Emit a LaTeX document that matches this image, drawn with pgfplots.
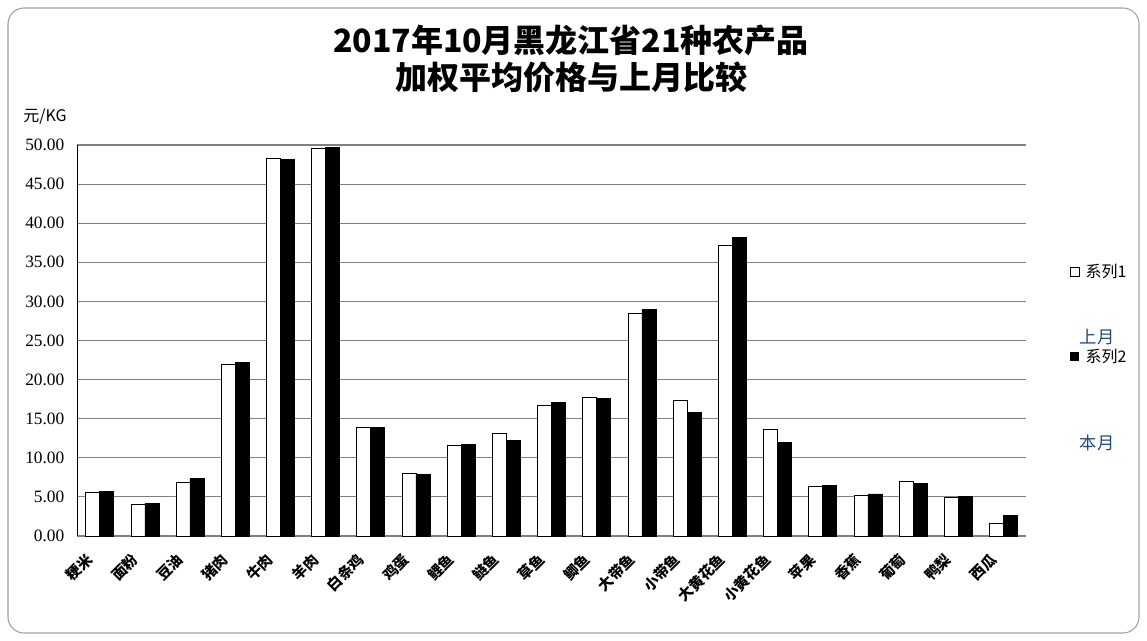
\documentclass[border=0pt]{standalone}
\usepackage{pgfplots}
\usepackage{pgfplotstable}
\pgfplotsset{compat=1.18}
\usepackage{fontspec}
\setmainfont{Noto Sans CJK SC}
\newfontfamily\numfont{Liberation Serif}
\definecolor{legblue}{RGB}{31,73,125}
\definecolor{framegray}{RGB}{160,160,160}
\definecolor{gridgray}{RGB}{128,128,128}

% i = category index, a = 上月 (系列1), b = 本月 (系列2)
\pgfplotstableread{
i a b
0 5.6 5.7
1 4.0 4.2
2 6.9 7.4
3 21.9 22.2
4 48.3 48.2
5 49.6 49.7
6 13.9 13.9
7 8.0 7.9
8 11.6 11.7
9 13.1 12.2
10 16.7 17.1
11 17.8 17.6
12 28.5 29.0
13 17.3 15.8
14 37.2 38.2
15 13.6 12.0
16 6.4 6.5
17 5.2 5.4
18 7.0 6.7
19 4.9 5.1
20 1.6 2.6
}\prices

\begin{document}
\begin{tikzpicture}
\path[use as bounding box] (0,0) rectangle (860.25pt,-480.75pt);
\begin{axis}[
  at={(57.75pt,-402pt)}, anchor=south west,
  scale only axis, width=711.75pt, height=293.25pt,
  ybar, bar width=10.5pt,
  xmin=-0.5, xmax=20.5, ymin=0, ymax=50,
  xtick={0,...,20},
  xticklabels={粳米,面粉,豆油,猪肉,牛肉,羊肉,白条鸡,鸡蛋,鲤鱼,鲢鱼,草鱼,鲫鱼,大带鱼,小带鱼,大黄花鱼,小黄花鱼,苹果,香蕉,葡萄,鸭梨,西瓜},
  ytick={0,5,...,50},
  axis x line*=bottom, axis y line*=left,
  x axis line style={gridgray,-},
  y axis line style={black,-},
  ymajorgrids, major grid style={gridgray, line width=0.8pt},
  tick style={draw=none},
  /pgf/number format/assume math mode=true,
  yticklabel style={font=\numfont\fontsize{13}{13}\selectfont, xshift=-6pt,
    /pgf/number format/.cd, fixed, fixed zerofill, precision=2},
  xticklabel shift=4pt,
  xticklabel style={rotate=45, anchor=east, font=\bfseries\fontsize{11}{11}\selectfont, xshift=-7pt},
  clip=false,
]
\addplot[draw=black, fill=white, bar shift=-5.25pt] table[x=i,y=a]{\prices};
\addplot[draw=black, fill=black, bar shift=5.25pt] table[x=i,y=b]{\prices};
\end{axis}
\begin{scope}[x=0.75pt,y=-0.75pt]
\draw[framegray, line width=0.8pt, rounded corners=12pt] (8,8) rectangle (1139,633);
\node[font=\bfseries\fontsize{24}{24}\selectfont] at (571,40) {2017年10月黑龙江省21种农产品};
\node[font=\bfseries\fontsize{24}{24}\selectfont] at (571,77) {加权平均价格与上月比较};
\node[font=\fontsize{12}{12}\selectfont] at (45,117) {元/KG};
\draw[black, fill=white] (1070,267) rectangle (1079,276);
\node[anchor=west, font=\fontsize{12}{12}\selectfont] at (1081,272) {系列1};
\node[legblue, font=\fontsize{13}{13}\selectfont] at (1097,337) {上月};
\fill[black] (1070,352) rectangle (1079,361);
\node[anchor=west, font=\fontsize{12}{12}\selectfont] at (1081,357) {系列2};
\node[legblue, font=\fontsize{13}{13}\selectfont] at (1097,443) {本月};
\end{scope}
\end{tikzpicture}
\end{document}
